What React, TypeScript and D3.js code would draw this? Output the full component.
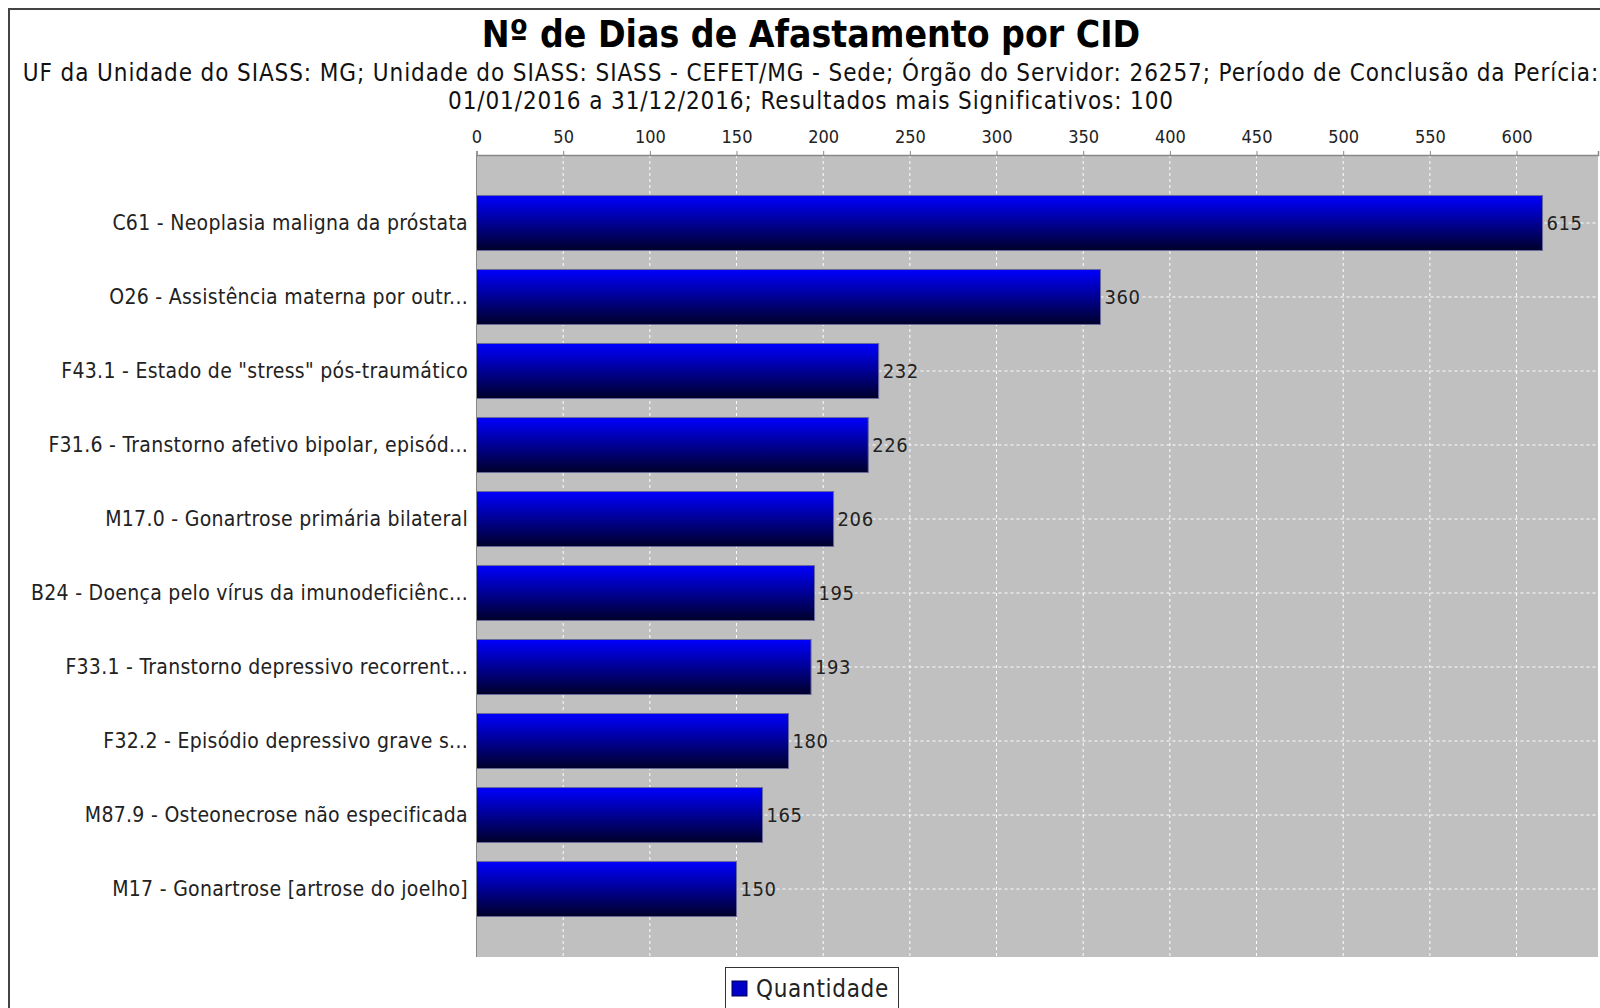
import { useEffect, useRef } from 'react';
import * as d3 from 'd3';

const categories = [
	'C61 - Neoplasia maligna da próstata',
	'O26 - Assistência materna por outr...',
	'F43.1 - Estado de "stress" pós-traumático',
	'F31.6 - Transtorno afetivo bipolar, episód...',
	'M17.0 - Gonartrose primária bilateral',
	'B24 - Doença pelo vírus da imunodeficiênc...',
	'F33.1 - Transtorno depressivo recorrent...',
	'F32.2 - Episódio depressivo grave s...',
	'M87.9 - Osteonecrose não especificada',
	'M17 - Gonartrose [artrose do joelho]',
];
const values = [615, 360, 232, 226, 206, 195, 193, 180, 165, 150];
const xTicks = [0, 50, 100, 150, 200, 250, 300, 350, 400, 450, 500, 550, 600];

const title = 'Nº de Dias de Afastamento por CID';
const subtitleLines = [
	'UF da Unidade do SIASS: MG; Unidade do SIASS: SIASS - CEFET/MG - Sede; Órgão do Servidor: 26257; Período de Conclusão da Perícia:',
	'01/01/2016 a 31/12/2016; Resultados mais Significativos: 100',
];
const seriesName = 'Quantidade';

const FONT = "'DejaVu Sans Condensed', 'DejaVu Sans', sans-serif";

export default function App() {
	const svgRef = useRef<SVGSVGElement | null>(null);
	const width = 1600;
	const height = 1008;

	useEffect(() => {
		if (!svgRef.current) return;
		const svg = d3.select(svgRef.current);
		svg.selectAll('*').remove();

		const plot = { left: 476.5, right: 1598, top: 155, bottom: 957 };
		const cx = 811;

		// gradient for bars
		const defs = svg.append('defs');
		const grad = defs
			.append('linearGradient')
			.attr('id', 'barGrad')
			.attr('x1', 0)
			.attr('y1', 0)
			.attr('x2', 0)
			.attr('y2', 1);
		grad.append('stop').attr('offset', '0%').attr('stop-color', '#0000ff');
		grad.append('stop').attr('offset', '100%').attr('stop-color', '#00002a');

		// white background + outer border
		svg.append('rect').attr('width', width).attr('height', height).attr('fill', '#fff');
		svg
			.append('path')
			.attr('d', `M9,${height} V9 H${width}`)
			.attr('fill', 'none')
			.attr('stroke', '#444')
			.attr('stroke-width', 2);

		// titles
		svg
			.append('text')
			.attr('x', cx)
			.attr('y', 47)
			.attr('text-anchor', 'middle')
			.style('font-family', FONT)
			.style('font-weight', 'bold')
			.style('font-size', '37px')
			.text(title);

		svg
			.selectAll('text.sub')
			.data(subtitleLines)
			.join('text')
			.attr('class', 'sub')
			.attr('x', cx)
			.attr('y', (d, i) => 81 + i * 28)
			.attr('text-anchor', 'middle')
			.style('font-family', FONT)
			.style('font-size', '24px')
			.style('letter-spacing', '0.9px')
			.attr('fill', '#111')
			.text((d) => d);

		// scales
		const x = d3.scaleLinear().domain([0, 647]).range([plot.left, plot.right]);
		const y = d3
			.scaleBand<string>()
			.domain(categories)
			.range([plot.top, plot.bottom])
			.paddingInner(0.257)
			.paddingOuter(0.547);

		// plot background
		svg
			.append('rect')
			.attr('x', plot.left)
			.attr('y', plot.top)
			.attr('width', plot.right - plot.left)
			.attr('height', plot.bottom - plot.top)
			.attr('fill', '#c0c0c0');

		// vertical gridlines
		svg
			.append('g')
			.selectAll('line')
			.data(xTicks.slice(1))
			.join('line')
			.attr('x1', (d) => x(d))
			.attr('x2', (d) => x(d))
			.attr('y1', plot.top)
			.attr('y2', plot.bottom)
			.attr('stroke', '#fff')
			.attr('stroke-width', 1)
			.attr('stroke-dasharray', '3,3');

		// category gridlines
		svg
			.append('g')
			.selectAll('line')
			.data(categories)
			.join('line')
			.attr('x1', plot.left)
			.attr('x2', plot.right)
			.attr('y1', (d) => y(d)! + y.bandwidth() / 2)
			.attr('y2', (d) => y(d)! + y.bandwidth() / 2)
			.attr('stroke', '#fff')
			.attr('stroke-width', 1)
			.attr('stroke-dasharray', '3,3');

		// bars
		svg
			.append('g')
			.selectAll('rect')
			.data(values)
			.join('rect')
			.attr('x', x(0))
			.attr('y', (d, i) => y(categories[i])!)
			.attr('width', (d) => x(d) - x(0))
			.attr('height', y.bandwidth())
			.attr('fill', 'url(#barGrad)')
			.attr('stroke', '#6a6a9a')
			.attr('stroke-width', 1);

		// value labels
		svg
			.append('g')
			.selectAll('text')
			.data(values)
			.join('text')
			.attr('x', (d) => x(d) + 4)
			.attr('y', (d, i) => y(categories[i])! + y.bandwidth() / 2)
			.attr('dy', '0.35em')
			.style('font-family', FONT)
			.style('font-size', '20px')
			.style('letter-spacing', '0.6px')
			.attr('fill', '#222')
			.text((d) => String(d));

		// category labels
		svg
			.append('g')
			.selectAll('text')
			.data(categories)
			.join('text')
			.attr('x', 468)
			.attr('y', (d) => y(d)! + y.bandwidth() / 2)
			.attr('dy', '0.35em')
			.attr('text-anchor', 'end')
			.style('font-family', FONT)
			.style('font-size', '21px')
			.style('letter-spacing', '0.3px')
			.attr('fill', '#222')
			.text((d) => d);

		// left plot edge
		svg
			.append('line')
			.attr('x1', plot.left)
			.attr('x2', plot.left)
			.attr('y1', plot.top)
			.attr('y2', plot.bottom)
			.attr('stroke', '#888')
			.attr('stroke-width', 1);

		// top axis
		const axis = svg
			.append('g')
			.attr('transform', `translate(0,${plot.top})`)
			.call(d3.axisTop(x).tickValues(xTicks).tickSize(4).tickPadding(8));
		axis.select('.domain').attr('stroke', '#888').attr('stroke-width', 1.5);
		axis.selectAll('.tick line').attr('stroke', '#888');
		axis
			.selectAll('.tick text')
			.style('font-family', FONT)
			.style('font-size', '18px')
			.attr('fill', '#222');

		// legend
		const lg = svg.append('g');
		lg.append('rect')
			.attr('x', 725.5)
			.attr('y', 967.5)
			.attr('width', 173)
			.attr('height', 50)
			.attr('fill', '#fff')
			.attr('stroke', '#333')
			.attr('stroke-width', 1);
		lg.append('rect')
			.attr('x', 732)
			.attr('y', 981)
			.attr('width', 15)
			.attr('height', 15)
			.attr('fill', '#0000c8')
			.attr('stroke', '#000050');
		lg.append('text')
			.attr('x', 756)
			.attr('y', 997)
			.style('font-family', FONT)
			.style('font-size', '24px')
			.style('letter-spacing', '0.7px')
			.attr('fill', '#222')
			.text(seriesName);
	}, []);

	return (
		<svg
			ref={svgRef}
			width={width}
			height={height}
			style={{ position: 'absolute', left: 0, top: 0, display: 'block' }}
		/>
	);
}
